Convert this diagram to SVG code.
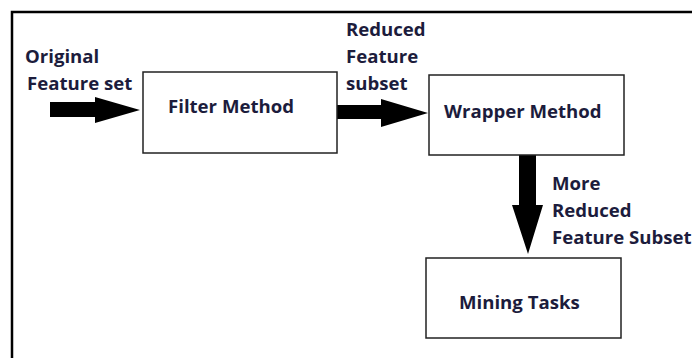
<svg xmlns="http://www.w3.org/2000/svg" width="692" height="358" viewBox="0 0 692 358">
<style>
.box{fill:#fff;stroke:#222;stroke-width:1.5}
.t{font-family:"Open Sans","Liberation Sans",sans-serif;font-weight:700;font-size:18.6px;fill:#1c1c3c}
.arr{fill:#000}
</style>
<rect width="692" height="358" fill="#fff"/>
<path d="M694,12 H12 V360" fill="none" stroke="#000" stroke-width="2.5"/>
<g id="connectors">
<polygon class="arr" points="50,102 95,102 95,97 140,110 95,123 95,117 50,117"/>
<polygon class="arr" points="337,105 381,105 381,99 428,113 381,127 381,119 337,119"/>
<polygon class="arr" points="519,155 536,155 536,205 543,205 528,254 512,205 519,205"/>
</g>
<g id="label-original">
<text class="t" x="25" y="63">Original</text>
<text class="t" x="27" y="90">Feature set</text>
</g>
<g id="label-reduced">
<text class="t" x="346" y="36">Reduced</text>
<text class="t" x="346" y="63">Feature</text>
<text class="t" x="346" y="90">subset</text>
</g>
<g id="label-more">
<text class="t" x="552" y="190">More</text>
<text class="t" x="552" y="217">Reduced</text>
<text class="t" x="552" y="244">Feature Subset</text>
</g>
<g id="filter">
<rect class="box" x="143" y="72" width="194" height="81"/>
<text class="t" x="168" y="113">Filter Method</text>
</g>
<g id="wrapper">
<rect class="box" x="429" y="75" width="195" height="80"/>
<text class="t" x="444" y="118">Wrapper Method</text>
</g>
<g id="mining">
<rect class="box" x="426" y="258" width="195" height="80"/>
<text class="t" x="459" y="309">Mining Tasks</text>
</g>
</svg>
